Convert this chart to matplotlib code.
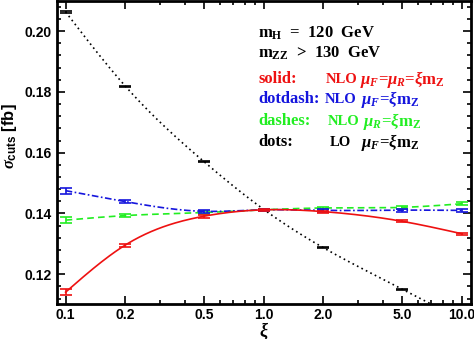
import numpy as np
import matplotlib.pyplot as plt
from matplotlib.ticker import FixedLocator, MultipleLocator, LogLocator, NullFormatter

# scale factor xi
xi = [0.1, 0.2, 0.5, 1.0, 2.0, 5.0, 10.0]

# cross sections [fb]
nlo_solid = [0.1141, 0.1296, 0.1391, 0.1412, 0.1406, 0.1374, 0.1333]
nlo_solid_err = [0.0010, 0.0005, 0.0005, 0.0003, 0.0003, 0.0003, 0.0003]
nlo_dotdash = [0.1475, 0.1439, 0.1407, 0.1412, 0.1410, 0.1411, 0.1410]
nlo_dotdash_err = [0.0010, 0.0005, 0.0005, 0.0003, 0.0004, 0.0005, 0.0005]
nlo_dashes = [0.1378, 0.1393, 0.1403, 0.1412, 0.1418, 0.1420, 0.1432]
nlo_dashes_err = [0.0010, 0.0004, 0.0004, 0.0003, 0.0004, 0.0005, 0.0005]
lo_dots = [0.2063, 0.1819, 0.1570, 0.1413, 0.1287, 0.1151, 0.1048]
lo_dots_err = [0.0002, 0.0002, 0.0002, 0.0002, 0.0002, 0.0002, 0.0002]

xtick_vals = [0.1, 0.2, 0.5, 1.0, 2.0, 5.0, 10.0]
xtick_labels = ['0.1', '0.2', '0.5', '1.0', '2.0', '5.0', '10.0']
ytick_vals = [0.12, 0.14, 0.16, 0.18, 0.20]

plt.rcParams['mathtext.fontset'] = 'custom'
plt.rcParams['mathtext.rm'] = 'Liberation Serif:bold'
plt.rcParams['mathtext.bf'] = 'Liberation Serif:bold'
plt.rcParams['mathtext.it'] = 'Liberation Serif:bold:italic'
plt.rcParams['mathtext.sf'] = 'Liberation Sans:bold'


def smooth(x, y, n=200):
    # natural cubic spline in log(x), only used to draw the connecting line
    t = np.log10(x)
    y = np.asarray(y, dtype=float)
    m = len(t)
    h = np.diff(t)
    A = np.zeros((m, m))
    b = np.zeros(m)
    A[0, 0] = A[-1, -1] = 1
    for i in range(1, m - 1):
        A[i, i - 1] = h[i - 1]
        A[i, i] = 2 * (h[i - 1] + h[i])
        A[i, i + 1] = h[i]
        b[i] = 6 * ((y[i + 1] - y[i]) / h[i] - (y[i] - y[i - 1]) / h[i - 1])
    M = np.linalg.solve(A, b)
    tt = np.linspace(t[0], t[-1], n)
    k = np.clip(np.searchsorted(t, tt) - 1, 0, m - 2)
    a = t[k + 1] - tt
    c = tt - t[k]
    hk = h[k]
    yy = (M[k] * a**3 / (6 * hk) + M[k + 1] * c**3 / (6 * hk)
          + (y[k] / hk - M[k] * hk / 6) * a + (y[k + 1] / hk - M[k + 1] * hk / 6) * c)
    return 10**tt, yy


red = '#ee1111'
blue = '#1515dd'
green = '#22ee22'

fig = plt.figure(figsize=(4.74, 3.39), dpi=100)
ax = fig.add_axes([0.1203, 0.1032, 0.8734, 0.8938])

series = [
    (lo_dots, lo_dots_err, 'black', (0, (1, 2))),
    (nlo_dashes, nlo_dashes_err, green, (0, (4, 2.5))),
    (nlo_dotdash, nlo_dotdash_err, blue, (0, (4, 1.5, 1, 1.5))),
    (nlo_solid, nlo_solid_err, red, '-'),
]
for vals, errs, col, ls in series:
    sx, sy = smooth(xi, vals)
    ax.plot(sx, sy, color=col, linestyle=ls, linewidth=1.2)
    ax.errorbar(xi, vals, yerr=errs, fmt='none', ecolor=col, elinewidth=1.2,
                capsize=4, capthick=1.2)

ax.set_xscale('log')
ax.set_xlim(0.0905, 11.1)
ax.set_ylim(0.1102, 0.2099)

ax.xaxis.set_major_locator(FixedLocator(xtick_vals))
ax.xaxis.set_minor_locator(LogLocator(base=10, subs=np.arange(1, 10)))
ax.xaxis.set_minor_formatter(NullFormatter())
ax.set_xticks(xtick_vals)
ax.set_xticklabels(xtick_labels)
ax.set_yticks(ytick_vals)
ax.set_yticklabels(['%.2f' % v for v in ytick_vals])
ax.yaxis.set_minor_locator(MultipleLocator(0.004))

for lab in ax.get_xticklabels() + ax.get_yticklabels():
    lab.set_fontfamily('Liberation Sans')
    lab.set_fontweight('bold')
    lab.set_fontsize(10)

ax.tick_params(which='both', direction='in', top=True, right=True, width=1.2)
ax.tick_params(which='major', length=6)
ax.tick_params(axis='y', which='major', pad=4)
ax.tick_params(axis='x', which='major', pad=3)
ax.tick_params(which='minor', length=3)
for sp in ax.spines.values():
    sp.set_linewidth(2)

ax.set_xlabel(r'$\xi$', fontsize=13, labelpad=-1)
ax.set_ylabel(r'$\sigma_{\mathsf{cuts}}$ [fb]', fontsize=12,
              fontfamily='Liberation Sans', fontweight='bold')
ax.yaxis.set_label_coords(-0.092, 0.555)

tfont = dict(family='Liberation Serif', fontweight='bold', fontsize=12, va='center',
             transform=ax.transAxes)


def fx(px):
    return (px - 57) / 414.0


def fy(py):
    return 1 - (py - 1) / 303.0


ax.text(fx(258), fy(33), r'm$_{\rm H}$  =  120  GeV', color='black', **tfont)
ax.text(fx(258), fy(53), r'm$_{\rm ZZ}$  >  130  GeV', color='black', **tfont)

# label, order, scale choice, colour, row y, x of order, x of scale (pixels)
rows = [
    ('solid:', 'NLO', r'$\mu_F$=$\mu_R$=$\xi$m$_{\rm Z}$', red, 79, 326, 360),
    ('dotdash:', 'NLO', r'$\mu_F$=$\xi$m$_{\rm Z}$', blue, 99, 325, 361),
    ('dashes:', 'NLO', r'$\mu_R$=$\xi$m$_{\rm Z}$', green, 121, 328, 363),
    ('dots:', 'LO', r'$\mu_F$=$\xi$m$_{\rm Z}$', 'black', 142, 330, 361),
]
for name, order, scale, col, py, nx, sx in rows:
    ax.text(fx(258), fy(py), name, color=col, **tfont)
    ax.text(fx(nx), fy(py), order, color=col,
            **dict(tfont, fontsize=10.5))
    ax.text(fx(sx), fy(py), scale, color=col, **tfont)

fig.savefig('out.png', dpi=100)
